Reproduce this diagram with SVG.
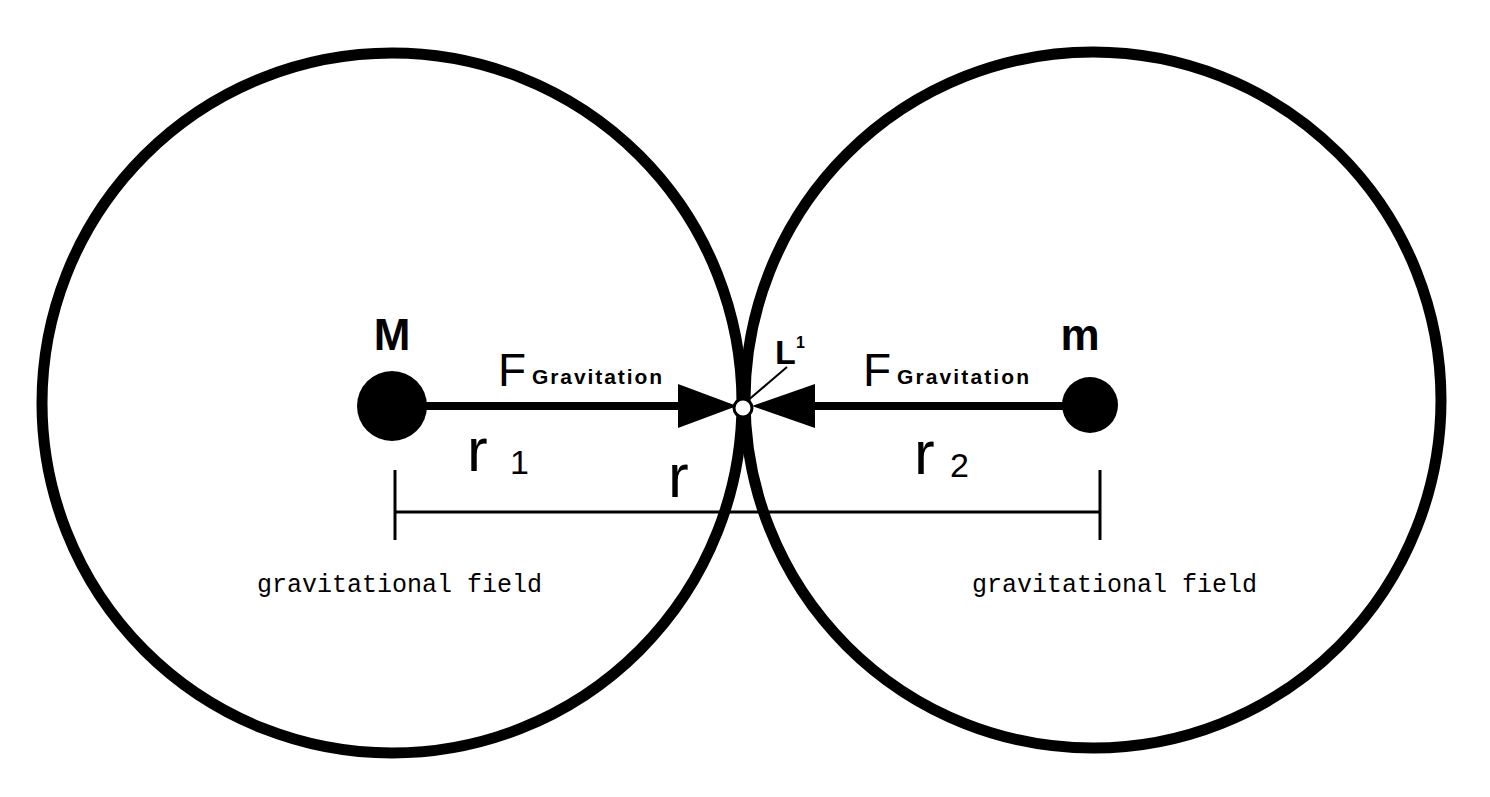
<svg xmlns="http://www.w3.org/2000/svg" width="1490" height="797" viewBox="0 0 1490 797">
<style>
.c{fill:none;stroke:#000;stroke-width:11}
.s{font-family:"Liberation Sans",Arial,sans-serif;fill:#000}
.b{font-weight:bold}
.m{font-family:"Liberation Mono",monospace;font-size:25px;fill:#000}
</style>
<rect width="1490" height="797" fill="#fff"/>
<g id="fieldM"><circle class="c" cx="392" cy="403" r="350"/></g>
<g id="fieldm"><circle class="c" cx="1093" cy="400" r="348"/></g>
<g id="connectors">
<line x1="392" y1="406" x2="690" y2="406" stroke="#000" stroke-width="8"/>
<polygon points="678,384 737,406 678,428" fill="#000"/>
<line x1="1090" y1="406" x2="805" y2="406" stroke="#000" stroke-width="8"/>
<polygon points="815,384 752,406 815,428" fill="#000"/>
<line x1="746" y1="402" x2="787" y2="367" stroke="#000" stroke-width="2"/>
<g stroke="#000" stroke-width="3"><line x1="395" y1="512" x2="1100" y2="512"/><line x1="395" y1="470" x2="395" y2="540"/><line x1="1100" y1="470" x2="1100" y2="540"/></g>
</g>
<g id="M"><circle cx="392" cy="406" r="35"/><text class="s b" x="392" y="350" font-size="44" text-anchor="middle">M</text></g>
<g id="m"><circle cx="1090" cy="405" r="28"/><text class="s b" x="1080" y="350" font-size="44" text-anchor="middle">m</text></g>
<g id="L1"><circle cx="743" cy="408" r="9" fill="#fff" stroke="#000" stroke-width="3"/><text class="s b" x="775" y="364" font-size="34">L</text><text class="s b" x="796" y="348" font-size="16">1</text></g>
<g id="labels">
<text class="s" x="498" y="386" font-size="46">F</text><text class="s b" x="532" y="384" font-size="21" textLength="130">Gravitation</text>
<text class="s" x="863" y="386" font-size="46">F</text><text class="s b" x="897" y="384" font-size="21" textLength="132">Gravitation</text>
<text class="s" x="467" y="471" font-size="62">r</text><text class="s" x="510" y="474" font-size="34">1</text>
<text class="s" x="668" y="497" font-size="62">r</text>
<text class="s" x="914" y="474" font-size="62">r</text><text class="s" x="950" y="477" font-size="34">2</text>
<text class="m" x="257" y="592">gravitational field</text>
<text class="m" x="972" y="592">gravitational field</text>
</g>
</svg>
